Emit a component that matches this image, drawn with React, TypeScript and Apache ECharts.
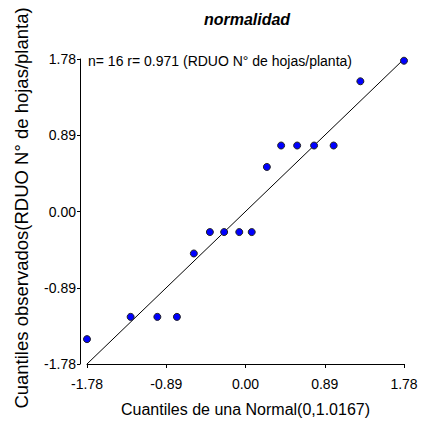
import React, { useEffect, useRef } from "react";
import * as echarts from "echarts";

const xQuantiles = [-1.78, -1.29, -0.99, -0.77, -0.58, -0.4, -0.24, -0.07, 0.07, 0.24, 0.4, 0.58, 0.77, 0.99, 1.29, 1.78];
const yObserved = [-1.49, -1.23, -1.23, -1.23, -0.49, -0.24, -0.24, -0.24, -0.24, 0.52, 0.77, 0.77, 0.77, 0.77, 1.52, 1.76];
const refLineX = [-1.78, 1.78];
const refLineY = [-1.78, 1.78];
const tickValues = [-1.78, -0.89, 0.0, 0.89, 1.78];

const titleText = "normalidad";
const xName = "Cuantiles de una Normal(0,1.0167)";
const yName = "Cuantiles observados(RDUO N° de hojas/planta)";
const noteText = "n= 16 r= 0.971 (RDUO N° de hojas/planta)";

const SANS = "'Liberation Sans', Arial, sans-serif";

const fmt = (v: number) => (Math.abs(v) < 1e-9 ? "0.00" : v.toFixed(2));

export default function App() {
  const ref = useRef<HTMLDivElement>(null);
  useEffect(() => {
    if (!ref.current) return;
    const chart = echarts.init(ref.current, null, { renderer: "svg" });
    const step = tickValues[1] - tickValues[0];
    const axisCommon = {
      type: "value" as const,
      min: tickValues[0],
      max: tickValues[tickValues.length - 1],
      interval: step,
      splitLine: { show: false },
      axisLine: { show: true, onZero: false, lineStyle: { color: "#000", width: 1 } },
    };
    chart.setOption({
      animation: false,
      backgroundColor: "#fff",
      grid: { left: 87, right: 20, top: 59, bottom: 61 },
      xAxis: {
        ...axisCommon,
        axisTick: { show: true, length: 4, lineStyle: { color: "#000" } },
        axisLabel: { formatter: fmt, margin: 13, fontSize: 14, fontFamily: SANS, color: "#000" },
        name: xName,
        nameLocation: "middle",
        nameGap: 37,
        nameTextStyle: { fontSize: 16, fontFamily: SANS, color: "#000" },
      },
      yAxis: {
        ...axisCommon,
        offset: 7,
        axisTick: { show: true, length: 3, lineStyle: { color: "#000" } },
        axisLabel: { formatter: fmt, margin: 4, fontSize: 14, fontFamily: SANS, color: "#000" },
      },
      graphic: [
        {
          type: "text",
          x: 247,
          y: 19,
          style: {
            text: titleText,
            fontSize: 16,
            fontWeight: "bold",
            fontStyle: "italic",
            fontFamily: SANS,
            fill: "#000",
            align: "center",
            verticalAlign: "middle",
          },
        },
        {
          type: "text",
          x: 88,
          y: 61,
          style: {
            text: noteText,
            fontSize: 14,
            fontFamily: SANS,
            fill: "#000",
            align: "left",
            verticalAlign: "middle",
          },
        },
        {
          type: "text",
          x: 21,
          y: 208,
          rotation: Math.PI / 2,
          style: {
            text: yName,
            fontSize: 18.5,
            fontFamily: SANS,
            fill: "#000",
            align: "center",
            verticalAlign: "middle",
          },
        },
      ],
      series: [
        {
          type: "line",
          data: refLineX.map((x, i) => [x, refLineY[i]]),
          showSymbol: false,
          symbol: "none",
          lineStyle: { color: "#000", width: 1 },
          z: 1,
        },
        {
          type: "scatter",
          data: xQuantiles.map((x, i) => [x, yObserved[i]]),
          symbol: "circle",
          symbolSize: 7,
          itemStyle: { color: "#0000ff", borderColor: "#222", borderWidth: 1, opacity: 1 },
          z: 2,
        },
      ],
    });
    return () => chart.dispose();
  }, []);
  return (
    <div
      ref={ref}
      style={{ position: "fixed", left: 0, top: 0, width: 424, height: 425, background: "#fff" }}
    />
  );
}
